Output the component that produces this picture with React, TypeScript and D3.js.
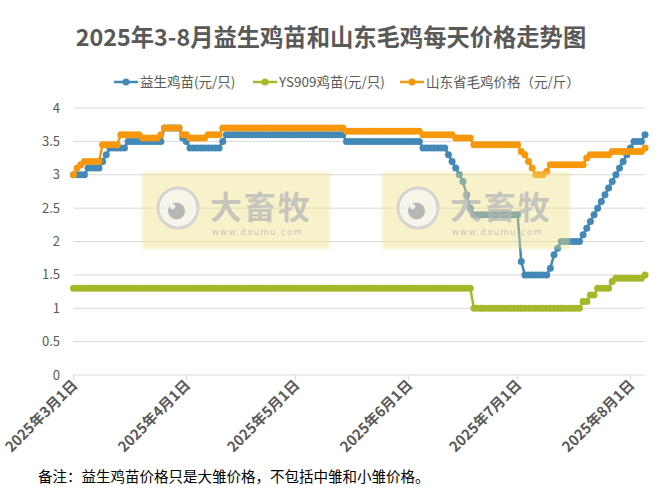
import * as d3 from 'd3';

// daily prices, 2025-03-01 .. 2025-08-05, one row per month
const yisheng = [
  3.0, 3.0, 3.0, 3.0, 3.1, 3.1, 3.1, 3.1, 3.2, 3.3, 3.4, 3.4, 3.4, 3.4, 3.4, 3.5, 3.5, 3.5, 3.5, 3.5, 3.5, 3.5, 3.5, 3.5, 3.5, 3.7, 3.7, 3.7, 3.7, 3.7, 3.55,
  3.5, 3.4, 3.4, 3.4, 3.4, 3.4, 3.4, 3.4, 3.4, 3.4, 3.5, 3.6, 3.6, 3.6, 3.6, 3.6, 3.6, 3.6, 3.6, 3.6, 3.6, 3.6, 3.6, 3.6, 3.6, 3.6, 3.6, 3.6, 3.6, 3.6,
  3.6, 3.6, 3.6, 3.6, 3.6, 3.6, 3.6, 3.6, 3.6, 3.6, 3.6, 3.6, 3.6, 3.6, 3.5, 3.5, 3.5, 3.5, 3.5, 3.5, 3.5, 3.5, 3.5, 3.5, 3.5, 3.5, 3.5, 3.5, 3.5, 3.5, 3.5,
  3.5, 3.5, 3.5, 3.5, 3.4, 3.4, 3.4, 3.4, 3.4, 3.4, 3.4, 3.3, 3.2, 3.1, 3.0, 2.9, 2.7, 2.5, 2.4, 2.4, 2.4, 2.4, 2.4, 2.4, 2.4, 2.4, 2.4, 2.4, 2.4, 2.4,
  2.4, 1.7, 1.5, 1.5, 1.5, 1.5, 1.5, 1.5, 1.5, 1.6, 1.8, 1.9, 2.0, 2.0, 2.0, 2.0, 2.0, 2.0, 2.1, 2.2, 2.3, 2.4, 2.5, 2.6, 2.7, 2.8, 2.9, 3.0, 3.1, 3.2, 3.3,
  3.4, 3.5, 3.5, 3.5, 3.6,
];

const ys909 = [
  1.3, 1.3, 1.3, 1.3, 1.3, 1.3, 1.3, 1.3, 1.3, 1.3, 1.3, 1.3, 1.3, 1.3, 1.3, 1.3, 1.3, 1.3, 1.3, 1.3, 1.3, 1.3, 1.3, 1.3, 1.3, 1.3, 1.3, 1.3, 1.3, 1.3, 1.3,
  1.3, 1.3, 1.3, 1.3, 1.3, 1.3, 1.3, 1.3, 1.3, 1.3, 1.3, 1.3, 1.3, 1.3, 1.3, 1.3, 1.3, 1.3, 1.3, 1.3, 1.3, 1.3, 1.3, 1.3, 1.3, 1.3, 1.3, 1.3, 1.3, 1.3,
  1.3, 1.3, 1.3, 1.3, 1.3, 1.3, 1.3, 1.3, 1.3, 1.3, 1.3, 1.3, 1.3, 1.3, 1.3, 1.3, 1.3, 1.3, 1.3, 1.3, 1.3, 1.3, 1.3, 1.3, 1.3, 1.3, 1.3, 1.3, 1.3, 1.3, 1.3,
  1.3, 1.3, 1.3, 1.3, 1.3, 1.3, 1.3, 1.3, 1.3, 1.3, 1.3, 1.3, 1.3, 1.3, 1.3, 1.3, 1.3, 1.3, 1.0, 1.0, 1.0, 1.0, 1.0, 1.0, 1.0, 1.0, 1.0, 1.0, 1.0, 1.0,
  1.0, 1.0, 1.0, 1.0, 1.0, 1.0, 1.0, 1.0, 1.0, 1.0, 1.0, 1.0, 1.0, 1.0, 1.0, 1.0, 1.0, 1.0, 1.1, 1.1, 1.2, 1.2, 1.3, 1.3, 1.3, 1.3, 1.4, 1.45, 1.45, 1.45, 1.45,
  1.45, 1.45, 1.45, 1.45, 1.5,
];

const shandong = [
  3.0, 3.1, 3.15, 3.2, 3.2, 3.2, 3.2, 3.2, 3.45, 3.45, 3.45, 3.45, 3.45, 3.6, 3.6, 3.6, 3.6, 3.6, 3.6, 3.55, 3.55, 3.55, 3.55, 3.55, 3.6, 3.7, 3.7, 3.7, 3.7, 3.7, 3.6,
  3.6, 3.55, 3.55, 3.55, 3.55, 3.55, 3.6, 3.6, 3.6, 3.6, 3.7, 3.7, 3.7, 3.7, 3.7, 3.7, 3.7, 3.7, 3.7, 3.7, 3.7, 3.7, 3.7, 3.7, 3.7, 3.7, 3.7, 3.7, 3.7, 3.7,
  3.7, 3.7, 3.7, 3.7, 3.7, 3.7, 3.7, 3.7, 3.7, 3.7, 3.7, 3.7, 3.7, 3.7, 3.65, 3.65, 3.65, 3.65, 3.65, 3.65, 3.65, 3.65, 3.65, 3.65, 3.65, 3.65, 3.65, 3.65, 3.65, 3.65, 3.65,
  3.65, 3.65, 3.65, 3.65, 3.6, 3.6, 3.6, 3.6, 3.6, 3.6, 3.6, 3.6, 3.6, 3.55, 3.55, 3.55, 3.55, 3.55, 3.45, 3.45, 3.45, 3.45, 3.45, 3.45, 3.45, 3.45, 3.45, 3.45, 3.45, 3.45,
  3.45, 3.35, 3.3, 3.2, 3.1, 3.0, 3.0, 3.0, 3.05, 3.15, 3.15, 3.15, 3.15, 3.15, 3.15, 3.15, 3.15, 3.15, 3.15, 3.25, 3.3, 3.3, 3.3, 3.3, 3.3, 3.3, 3.35, 3.35, 3.35, 3.35, 3.35,
  3.35, 3.35, 3.35, 3.35, 3.4,
];

const firstDay = new Date(2025, 2, 1);
const lastDay = new Date(2025, 7, 5);
const monthTicks = [
  new Date(2025, 2, 1), new Date(2025, 3, 1), new Date(2025, 4, 1),
  new Date(2025, 5, 1), new Date(2025, 6, 1), new Date(2025, 7, 1),
];
const yTicks = [0, 0.5, 1, 1.5, 2, 2.5, 3, 3.5, 4];
const seriesNames = ['益生鸡苗(元/只)', 'YS909鸡苗(元/只)', '山东省毛鸡价格（元/斤）'];
const seriesColors = ['#4389b8', '#a5b829', '#f7980c'];
const seriesData = [yisheng, ys909, shandong];

const title = '2025年3-8月益生鸡苗和山东毛鸡每天价格走势图';
const note = '备注：益生鸡苗价格只是大雏价格，不包括中雏和小雏价格。';

const W = 666;
const H = 495;
const FONT = '"Noto Sans CJK SC", "Noto Sans", sans-serif';

const x = d3.scaleTime().domain([firstDay, lastDay]).range([73.5, 645]);
const y = d3.scaleLinear().domain([0, 4]).range([375, 108]);

const days = d3.timeDay.range(firstDay, d3.timeDay.offset(lastDay, 1));

function Watermark({ dx }: { dx: number }) {
  return (
    <g transform={`translate(${dx},0)`} opacity={0.95}>
      <rect x={142} y={172} width={188} height={77} fill="rgb(238,225,130)" opacity={0.45} filter="url(#soft)" />
      <circle cx={178} cy={208} r={20} fill="rgba(245,245,245,0.7)" stroke="#d2d2d2" strokeWidth={3} />
      <circle cx={176.5} cy={211} r={8.5} fill="#a8a8a8" opacity={0.85} />
      <circle cx={172.5} cy={206.5} r={2.8} fill="#f2f2f2" />
      <text x={210} y={219} fontFamily={FONT} fontWeight={700} fontSize={32} fill="#b8b8b8" opacity={0.8} letterSpacing={2}>
        大畜牧
      </text>
      <text x={212} y={235} fontFamily="DejaVu Sans, sans-serif" fontSize={8.5} fill="#b8b8b8" opacity={0.85} letterSpacing={1.4}>
        www.dxumu.com
      </text>
    </g>
  );
}

export default function App() {
  const line = d3
    .line<number>()
    .x((_, i) => x(days[i]))
    .y((v) => y(v));

  const legendX = [114, 253, 400];

  return (
    <div style={{ position: 'fixed', left: 0, top: 0, width: W, height: H, background: '#fff' }}>
      <svg width={W} height={H} style={{ display: 'block' }}>
        <defs>
          <filter id="soft" x="-5%" y="-10%" width="110%" height="120%">
            <feGaussianBlur stdDeviation={1.5} />
          </filter>
        </defs>
        <rect width={W} height={H} fill="#fff" />

        <text x={331} y={46} textAnchor="middle" fontFamily={FONT} fontWeight={700} fontSize={23.3} fill="#595959">
          {title}
        </text>

        {seriesNames.map((name, i) => (
          <g key={name}>
            <line x1={legendX[i]} x2={legendX[i] + 24} y1={82} y2={82} stroke={seriesColors[i]} strokeWidth={2.5} />
            <circle cx={legendX[i] + 12} cy={82} r={3.5} fill={seriesColors[i]} />
            <text x={legendX[i] + 26} y={87} fontFamily={FONT} fontSize={13.5} fill="#595959">
              {name}
            </text>
          </g>
        ))}

        {yTicks.map((t) => (
          <g key={t}>
            <line x1={73.5} x2={645} y1={y(t)} y2={y(t)} stroke="#d9d9d9" strokeWidth={1} />
            <text x={60} y={y(t) + 4.5} textAnchor="end" fontFamily={FONT} fontSize={13} fill="#595959">
              {t}
            </text>
          </g>
        ))}

        {monthTicks.map((d) => (
          <g key={d.getTime()}>
            <line x1={x(d)} x2={x(d)} y1={375} y2={380} stroke="#d9d9d9" />
            <text
              transform={`translate(${x(d) + 5},${386}) rotate(-45)`}
              textAnchor="end"
              fontFamily={FONT}
              fontWeight={700}
              fontSize={14.5}
              fill="#595959"
            >
              {`${d.getFullYear()}年${d.getMonth() + 1}月${d.getDate()}日`}
            </text>
          </g>
        ))}

        {seriesData.map((data, i) => (
          <g key={seriesNames[i]}>
            <path d={line(data) ?? ''} fill="none" stroke={seriesColors[i]} strokeWidth={2.5} />
            {data.map((v, j) => (
              <circle key={j} cx={x(days[j])} cy={y(v)} r={3.5} fill={seriesColors[i]} />
            ))}
          </g>
        ))}

        <Watermark dx={0} />
        <Watermark dx={240} />

        <text x={38} y={482} fontFamily={FONT} fontSize={14.5} fill="#000">
          {note}
        </text>
      </svg>
    </div>
  );
}
